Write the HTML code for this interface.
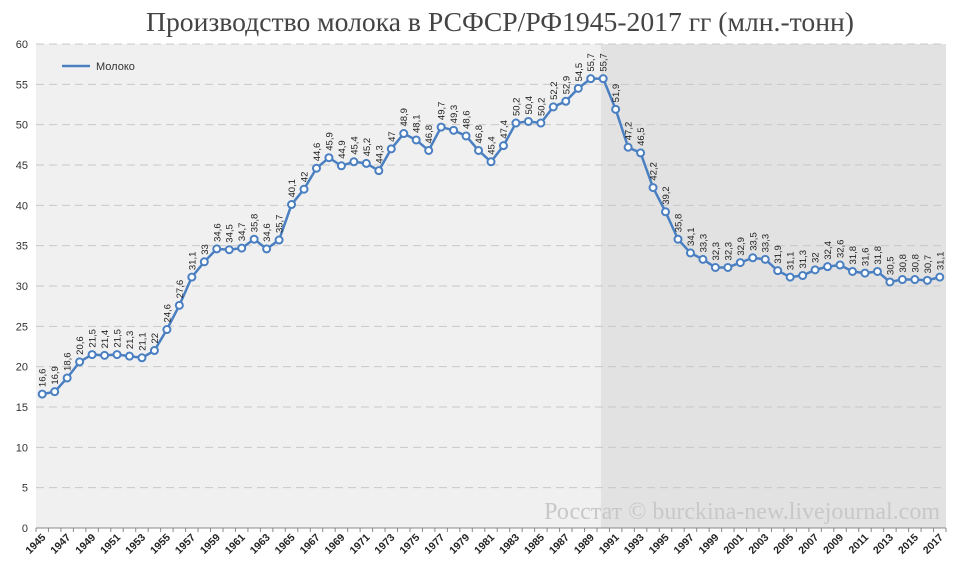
<!DOCTYPE html>
<html><head><meta charset="utf-8"><style>
body{margin:0;background:#fff;width:960px;height:578px;overflow:hidden}
svg{display:block}
</style></head><body>
<svg id="c" width="960" height="578" xmlns="http://www.w3.org/2000/svg" font-family="Liberation Sans, sans-serif"></svg>
<script>
const d=[16.6,16.9,18.6,20.6,21.5,21.4,21.5,21.3,21.1,22,24.6,27.6,31.1,33,34.6,34.5,34.7,35.8,34.6,35.7,40.1,42,44.6,45.9,44.9,45.4,45.2,44.3,47,48.9,48.1,46.8,49.7,49.3,48.6,46.8,45.4,47.4,50.2,50.4,50.2,52.2,52.9,54.5,55.7,55.7,51.9,47.2,46.5,42.2,39.2,35.8,34.1,33.3,32.3,32.3,32.9,33.5,33.3,31.9,31.1,31.3,32,32.4,32.6,31.8,31.6,31.8,30.5,30.8,30.8,30.7,31.1];
const L=36,R=946,T=44,B=528,n=73,w=(R-L)/n;
const X=i=>L+w*(i+0.5),Y=v=>B-(B-T)*v/60;
let s='';
s+=`<text x="500" y="31" text-anchor="middle" font-family="Liberation Serif, serif" font-size="27" fill="#444" textLength="708" lengthAdjust="spacingAndGlyphs">Производство молока в РСФСР/РФ1945-2017 гг (млн.-тонн)</text>`;
s+=`<rect x="${L}" y="${T}" width="${R-L}" height="${B-T}" fill="#f0f0f0"/>`;
s+=`<rect x="601" y="${T}" width="${R-601}" height="${B-T}" fill="#e2e2e2"/>`;
for(let v=0;v<=60;v+=5){const y=Y(v);
 if(v>0)s+=`<line x1="${L}" x2="${R}" y1="${y}" y2="${y}" stroke="#c8c8c8" stroke-dasharray="8,5"/>`;
 s+=`<text x="28" y="${y+4}" text-anchor="end" font-size="11" fill="#333">${v}</text>`;}
s+=`<line x1="${L}" x2="${R}" y1="${B}" y2="${B}" stroke="#888"/>`;
for(let i=0;i<=n;i++)s+=`<line x1="${L+w*i}" x2="${L+w*i}" y1="${B}" y2="${B+4}" stroke="#888"/>`;
for(let i=0;i<n;i+=2)s+=`<text transform="translate(${X(i)+4},${B+10}) rotate(-45)" text-anchor="end" font-size="10.5" font-weight="bold" fill="#222">${1945+i}</text>`;
s+=`<text x="940" y="519" text-anchor="end" font-family="Liberation Serif, serif" font-size="24" fill="#c8c8c8">Росстат © burckina-new.livejournal.com</text>`;
s+=`<polyline fill="none" stroke="#4a7fc1" stroke-width="2.5" points="${d.map((v,i)=>X(i)+','+Y(v)).join(' ')}"/>`;
d.forEach((v,i)=>{s+=`<circle cx="${X(i)}" cy="${Y(v)}" r="3.5" fill="#fff" stroke="#4a7fc1" stroke-width="2"/>`;
 s+=`<text transform="translate(${X(i)+3.5},${Y(v)-7}) rotate(-90)" font-size="9.5" fill="#222">${String(v).replace('.',',')}</text>`;});
s+=`<line x1="62" x2="90" y1="66" y2="66" stroke="#4a7fc1" stroke-width="2.5"/><text x="96" y="70" font-size="11" fill="#333">Молоко</text>`;
document.getElementById('c').innerHTML=s;
</script>
</body></html>
